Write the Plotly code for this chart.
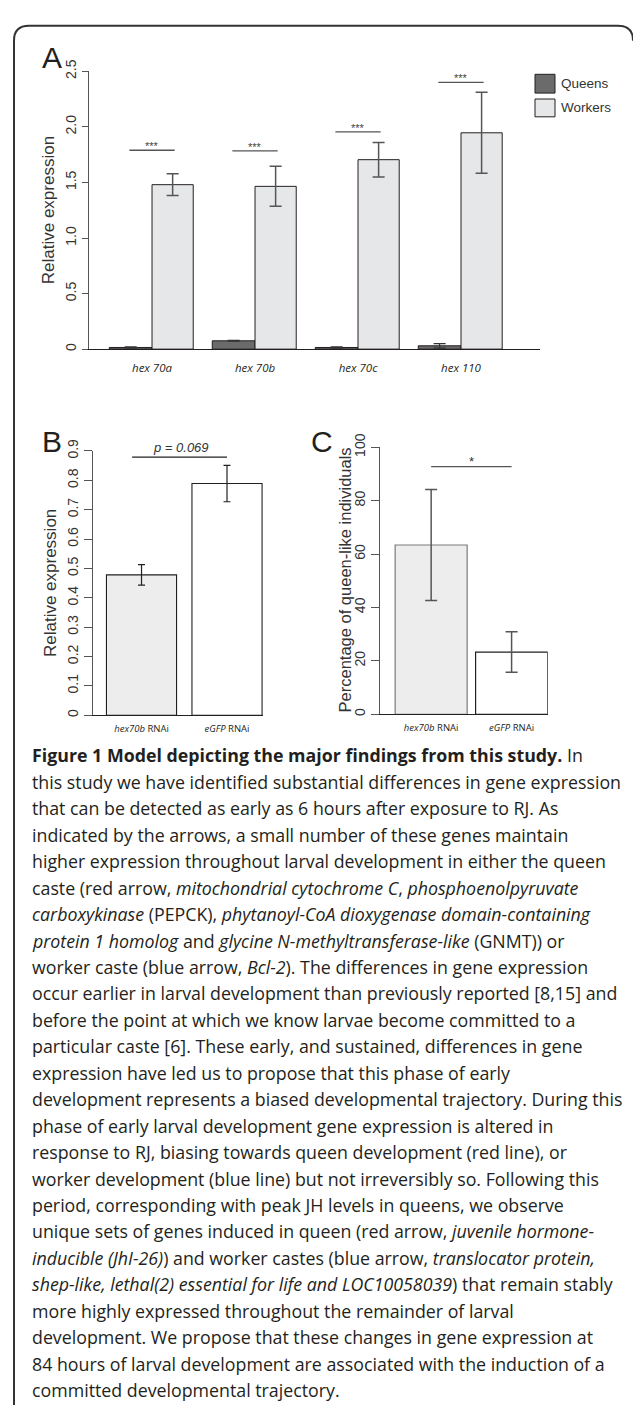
import plotly.graph_objects as go

W, H = 633, 1405


def px(x):
    return x / W


def py(y):
    return 1 - y / H


# ---------------- data ----------------
genes = ["hex 70a", "hex 70b", "hex 70c", "hex 110"]
queens = [0.015, 0.075, 0.015, 0.03]
queens_err = [0.005, 0.004, 0.005, 0.02]
workers = [1.48, 1.465, 1.705, 1.947]
workers_err = [0.098, 0.18, 0.155, 0.365]
sig_a_y = [1.79, 1.785, 1.955, 2.40]
sig_a_label = ["***", "***", "***", "***"]

rnai = ["hex70b RNAi", "eGFP RNAi"]
rnai_ticktext = ["<i>hex70b</i> RNAi", "<i>eGFP</i> RNAi"]
expr_b = [0.478, 0.789]
expr_b_err = [0.035, 0.062]
sig_b_y = 0.879
sig_b_label = "p = 0.069"

pct_c = [63.4, 23.3]
pct_c_err = [20.8, 7.6]
sig_c_y = 92.8
sig_c_label = "*"

ticks_a = [0, 0.5, 1.0, 1.5, 2.0, 2.5]
ticks_a_text = ["0", "0.5", "1.0", "1.5", "2.0", "2.5"]
ticks_b = [0, 0.1, 0.2, 0.3, 0.4, 0.5, 0.6, 0.7, 0.8, 0.9]
ticks_b_text = ["0", "0.1", "0.2", "0.3", "0.4", "0.5", "0.6", "0.7", "0.8", "0.9"]
ticks_c = [0, 20, 40, 60, 80, 100]
ticks_c_text = ["0", "20", "40", "60", "80", "100"]

caption_lines = [
    "<b>Figure 1 Model depicting the major findings from this study.</b> In",
    "this study we have identified substantial differences in gene expression",
    "that can be detected as early as 6 hours after exposure to RJ. As",
    "indicated by the arrows, a small number of these genes maintain",
    "higher expression throughout larval development in either the queen",
    "caste (red arrow, <i>mitochondrial cytochrome C</i>, <i>phosphoenolpyruvate</i>",
    "<i>carboxykinase</i> (PEPCK), <i>phytanoyl-CoA dioxygenase domain-containing</i>",
    "<i>protein 1 homolog</i> and <i>glycine N-methyltransferase-like</i> (GNMT)) or",
    "worker caste (blue arrow, <i>Bcl-2</i>). The differences in gene expression",
    "occur earlier in larval development than previously reported [8,15] and",
    "before the point at which we know larvae become committed to a",
    "particular caste [6]. These early, and sustained, differences in gene",
    "expression have led us to propose that this phase of early",
    "development represents a biased developmental trajectory. During this",
    "phase of early larval development gene expression is altered in",
    "response to RJ, biasing towards queen development (red line), or",
    "worker development (blue line) but not irreversibly so. Following this",
    "period, corresponding with peak JH levels in queens, we observe",
    "unique sets of genes induced in queen (red arrow, <i>juvenile hormone-</i>",
    "<i>inducible (JhI-26)</i>) and worker castes (blue arrow, <i>translocator protein,</i>",
    "<i>shep-like, lethal(2) essential for life and LOC10058039</i>) that remain stably",
    "more highly expressed throughout the remainder of larval",
    "development. We propose that these changes in gene expression at",
    "84 hours of larval development are associated with the induction of a",
    "committed developmental trajectory.",
]

INK = "#231f20"
SANS = "Liberation Sans"

fig = go.Figure()

# Panel A
fig.add_trace(go.Bar(
    x=genes, y=queens, width=0.415, offset=-0.415,
    marker=dict(color="#6b6b6b", line=dict(color=INK, width=1)),
    error_y=dict(type="data", array=queens_err, color="#333333", thickness=1.2, width=6),
    xaxis="x", yaxis="y", name="Queens", showlegend=False))
fig.add_trace(go.Bar(
    x=genes, y=workers, width=0.40, offset=0,
    marker=dict(color="#e6e7e8", line=dict(color=INK, width=1)),
    error_y=dict(type="data", array=workers_err, color="#555555", thickness=1.5, width=6),
    xaxis="x", yaxis="y", name="Workers", showlegend=False))

# Panel B
fig.add_trace(go.Bar(
    x=rnai, y=expr_b, width=0.82,
    marker=dict(color=["#ededed", "#ffffff"], line=dict(color=INK, width=1.1)),
    error_y=dict(type="data", array=expr_b_err, color=INK, thickness=1.2, width=3.5),
    xaxis="x2", yaxis="y2", showlegend=False))

# Panel C
fig.add_trace(go.Bar(
    x=rnai, y=pct_c, width=0.895,
    marker=dict(color=["#ededed", "#ffffff"], line=dict(color=["#7a7a7a", INK], width=1.2)),
    error_y=dict(type="data", array=pct_c_err, color="#555555", thickness=1.5, width=6),
    xaxis="x3", yaxis="y3", showlegend=False))

yax_common = dict(showline=True, showgrid=False, zeroline=False, ticks="outside",
                  tickangle=-90, tickfont=dict(family=SANS, size=14, color="#333333"))
xax_common = dict(showline=True, showgrid=False, zeroline=False, ticks="",
                  type="category", linecolor=INK, linewidth=1.2)

shapes = []
annotations = []

# significance bars A
for i, g in enumerate(genes):
    shapes.append(dict(type="line", xref="x", yref="y", x0=i - 0.22, x1=i + 0.22,
                       y0=sig_a_y[i], y1=sig_a_y[i], line=dict(color="#555555", width=1.3)))
    annotations.append(dict(xref="x", yref="y", x=i, y=sig_a_y[i], text=sig_a_label[i],
                            showarrow=False, yanchor="middle", yshift=4,
                            font=dict(family=SANS, size=11, color="#444444")))
# significance B
shapes.append(dict(type="line", xref="x2", yref="y2", x0=-0.11, x1=1.0, y0=sig_b_y, y1=sig_b_y,
                   line=dict(color=INK, width=1.1)))
annotations.append(dict(xref="x2", yref="y2", x=0.46, y=sig_b_y, text="<i>" + sig_b_label + "</i>",
                        showarrow=False, yanchor="middle", yshift=10,
                        font=dict(family=SANS, size=13, color="#333333")))
# significance C
shapes.append(dict(type="line", xref="x3", yref="y3", x0=0, x1=1, y0=sig_c_y, y1=sig_c_y,
                   line=dict(color="#555555", width=1.3)))
annotations.append(dict(xref="x3", yref="y3", x=0.5, y=sig_c_y, text=sig_c_label,
                        showarrow=False, yanchor="middle", yshift=5,
                        font=dict(family=SANS, size=13, color="#333333")))

# manual legend for A
shapes.append(dict(type="rect", xref="paper", yref="paper", x0=px(535), x1=px(555),
                   y0=py(80), y1=py(61), fillcolor="#6b6b6b", line=dict(color=INK, width=1)))
shapes.append(dict(type="rect", xref="paper", yref="paper", x0=px(535), x1=px(555),
                   y0=py(104), y1=py(86), fillcolor="#e6e7e8", line=dict(color=INK, width=1)))
annotations.append(dict(xref="paper", yref="paper", x=px(559), y=py(70), text="Queens",
                        showarrow=False, xanchor="left", yanchor="middle",
                        font=dict(family=SANS, size=13.5, color="#333333")))
annotations.append(dict(xref="paper", yref="paper", x=px(559), y=py(95), text="Workers",
                        showarrow=False, xanchor="left", yanchor="middle",
                        font=dict(family=SANS, size=13.5, color="#333333")))

# panel letters
for letter, (lx, ly) in {"A": (52, 44), "B": (52, 432), "C": (322, 432)}.items():
    annotations.append(dict(xref="paper", yref="paper", x=px(lx), y=py(ly), text=letter,
                            showarrow=False, xanchor="center", yanchor="middle",
                            font=dict(family=SANS, size=30, color=INK)))

# axis titles
for txt, (tx, ty), fs in [("Relative expression", (48, 198.5), 17),
                          ("Relative expression", (50, 575.6), 17),
                          ("Percentage of queen-like individuals", (345, 573), 16.5)]:
    annotations.append(dict(xref="paper", yref="paper", x=px(tx), y=py(ty), text=txt,
                            textangle=-90, showarrow=False, xanchor="center", yanchor="middle",
                            font=dict(family=SANS, size=fs, color="#333333")))

# caption
for k, line in enumerate(caption_lines):
    annotations.append(dict(xref="paper", yref="paper", x=px(30), y=py(750 + k * 26.75),
                            text=line, showarrow=False, xanchor="left", yanchor="middle",
                            font=dict(family="Open Sans", size=17.8, color=INK)))

# frame
frame = (f"M {px(14)} {py(1420)} L {px(14)} {py(27)} Q {px(14)} {py(12)} {px(29)} {py(12)} "
         f"L {px(618)} {py(12)} Q {px(633)} {py(12)} {px(633)} {py(27)}")
shapes.append(dict(type="path", xref="paper", yref="paper", path=frame,
                   line=dict(color="#333333", width=2)))

fig.update_layout(
    width=W, height=H, margin=dict(l=0, r=0, t=0, b=0),
    paper_bgcolor="white", plot_bgcolor="white", showlegend=False,
    xaxis=dict(xax_common, domain=[px(89), px(540)], range=[-0.612, 3.767], anchor="y",
               tickfont=dict(family="Open Sans", size=11.5, color=INK, style="italic"),
               ticklabelstandoff=8),
    yaxis=dict(yax_common, domain=[py(339), py(58)], range=[0, 2.5], anchor="x",
               tickvals=ticks_a, ticktext=ticks_a_text, ticklen=6,
               linecolor="#555555", tickcolor="#555555"),
    xaxis2=dict(xax_common, domain=[px(92.7), px(263)], range=[-0.571, 1.421], anchor="y2",
                tickvals=rnai, ticktext=rnai_ticktext,
                tickfont=dict(family="Open Sans", size=9.5, color=INK), ticklabelstandoff=4),
    yaxis2=dict(yax_common, domain=[py(709.3), py(442)], range=[0, 0.9], anchor="x2",
                tickvals=ticks_b, ticktext=ticks_b_text, ticklen=8,
                linecolor="#555555", tickcolor="#555555"),
    xaxis3=dict(xax_common, domain=[px(380), px(547.7)], range=[-0.636, 1.449], anchor="y3",
                tickvals=rnai, ticktext=rnai_ticktext,
                tickfont=dict(family="Open Sans", size=9.5, color=INK), ticklabelstandoff=4),
    yaxis3=dict(yax_common, domain=[py(708.3), py(438.3)], range=[0, 100], anchor="x3",
                tickvals=ticks_c, ticktext=ticks_c_text, ticklen=8,
                linecolor="#555555", tickcolor="#555555"),
    shapes=shapes, annotations=annotations,
)

# remove the default 8px page margin so the 633x1405 figure fills the window exactly
fig.write_html("out.html", config={"displayModeBar": False},
               post_script="document.body.style.margin='0';")
